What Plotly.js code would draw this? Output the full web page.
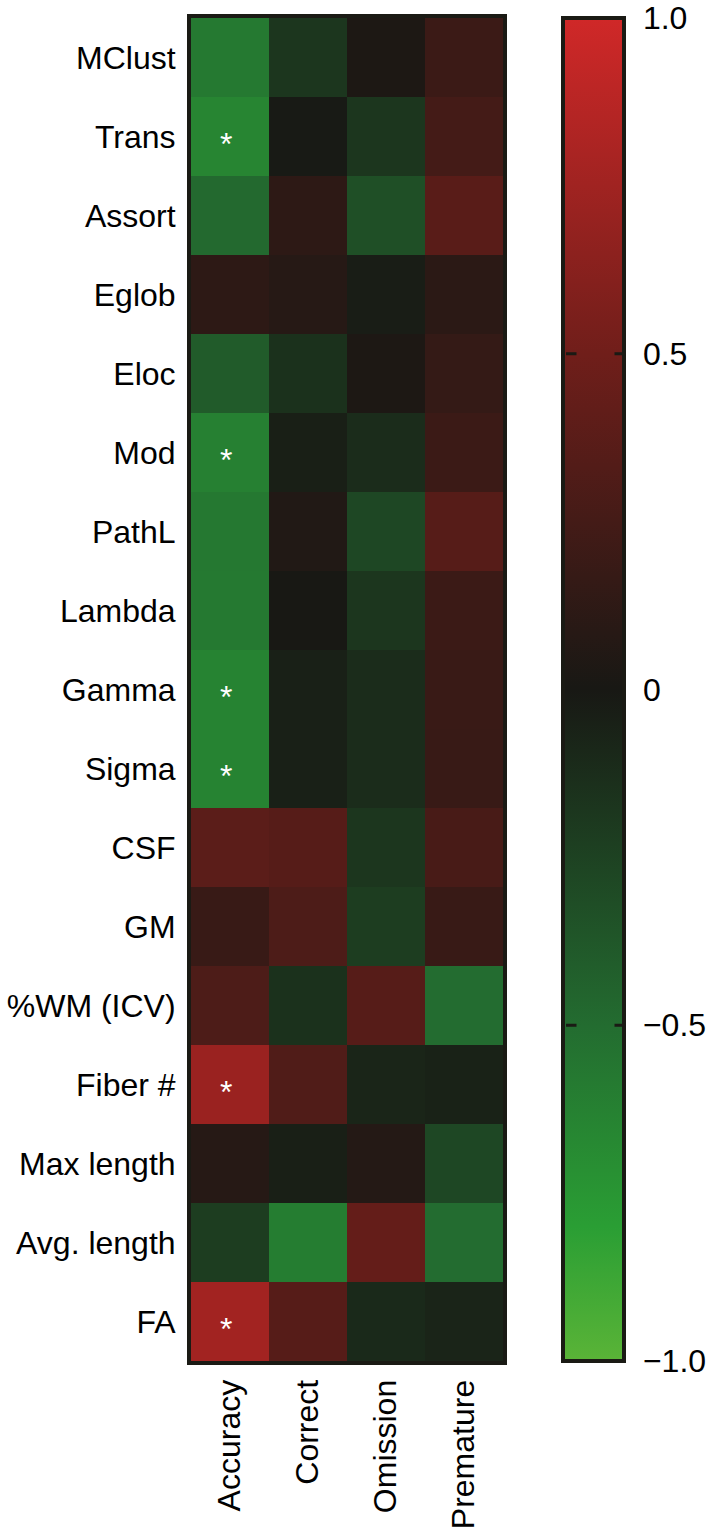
<!DOCTYPE html>
<html>
<head>
<meta charset="utf-8">
<script src="https://cdn.plot.ly/plotly-3.0.1.min.js"></script>
<style>
    body { margin: 0; background: #fff; }
    #chart { width: 709px; height: 1533px; }
</style>
</head>
<body>
<div id="chart"></div>
<script>
// Row / column labels
let rows = ["MClust", "Trans", "Assort", "Eglob", "Eloc", "Mod", "PathL", "Lambda", "Gamma",
            "Sigma", "CSF", "GM", "%WM (ICV)", "Fiber #", "Max length", "Avg. length", "FA"];
let cols = ["Accuracy", "Correct", "Omission", "Premature"];

// Correlation values, one array per column
let accuracy  = [-0.58, -0.65, -0.48, 0.12, -0.40, -0.62, -0.57, -0.58, -0.64, -0.64, 0.38, 0.18, 0.30, 0.72, 0.08, -0.22, 0.76];
let correct   = [-0.18, -0.01, 0.12, 0.08, -0.15, -0.04, 0.05, 0.00, -0.05, -0.05, 0.35, 0.30, -0.15, 0.32, -0.04, -0.60, 0.35];
let omission  = [0.03, -0.18, -0.33, -0.03, 0.03, -0.12, -0.28, -0.18, -0.12, -0.12, -0.18, -0.22, 0.35, -0.08, 0.07, 0.43, -0.10];
let premature = [0.20, 0.25, 0.37, 0.11, 0.16, 0.20, 0.35, 0.20, 0.19, 0.18, 0.27, 0.18, -0.50, -0.06, -0.28, -0.50, -0.07];

// Significant cells (all in the Accuracy column)
let significant = ["Trans", "Mod", "Gamma", "Sigma", "Fiber #", "FA"];

let cbar_vals = [-1, -0.5, 0, 0.5, 1];
let cbar_text = ["\u22121.0", "\u22120.5", "0", "0.5", "1.0"];
let cbar_marks = [-0.5, 0.5];

let z = rows.map((r, i) => [accuracy[i], correct[i], omission[i], premature[i]]);

let font = "'Liberation Sans', Arial, Helvetica, sans-serif";
let dark = "#1a1a14";
let zmin = -1, zmax = 1;
let plot_l = 191, plot_w = 312;
let px = p => (p - plot_l) / plot_w; // pixel -> paper x

let trace = {
    type: "heatmap",
    x: cols,
    y: rows,
    z: z,
    zmin: zmin,
    zmax: zmax,
    colorscale: [
        [0, "rgb(90,180,55)"],
        [0.1, "rgb(42,158,52)"],
        [0.25, "rgb(35,108,48)"],
        [0.5, "rgb(24,24,20)"],
        [0.75, "rgb(112,30,26)"],
        [1, "rgb(208,40,40)"],
    ],
    colorbar: {
        x: px(563),
        xanchor: "left",
        xpad: 0,
        ypad: 0,
        y: 0.5,
        yanchor: "middle",
        len: 1,
        thickness: 61,
        outlinewidth: 4,
        outlinecolor: dark,
        tickvals: cbar_vals,
        ticktext: cbar_text,
        ticks: "outside",
        ticklen: 11,
        tickcolor: "rgba(0,0,0,0)",
        tickfont: { family: font, size: 32, color: "#000" },
    },
    hoverinfo: "skip",
};

let annotations = significant.map(name => ({
    x: "Accuracy",
    y: name,
    text: "*",
    showarrow: false,
    xshift: -4,
    yshift: -7,
    font: { family: font, size: 32, color: "#fff" },
}));

// inward tick marks on both sides of the colour bar (arrows, so they sit above the bar)
let tick_mark = (xp, yy, ax) => ({
    xref: "paper", yref: "paper", x: xp, y: yy,
    text: " ", font: { size: 1 },
    showarrow: true, arrowhead: 0, arrowwidth: 3, arrowcolor: dark,
    ax: ax, ay: 0, standoff: 0, startstandoff: 0,
});
for (let v of cbar_marks)
{
    let yy = (v - zmin) / (zmax - zmin);
    annotations.push(tick_mark(px(566), yy, 12));
    annotations.push(tick_mark(px(625), yy, -12));
}

let layout = {
    width: 709,
    height: 1533,
    margin: { l: 191, r: 206, t: 18, b: 172, autoexpand: false },
    paper_bgcolor: "#fff",
    plot_bgcolor: "#fff",
    font: { family: font, size: 32, color: "#000" },
    xaxis: {
        type: "category",
        tickangle: -90,
        ticks: "outside",
        ticklen: 2,
        tickcolor: "rgba(0,0,0,0)",
        showline: true,
        mirror: true,
        linewidth: 4,
        linecolor: dark,
        showgrid: false,
        zeroline: false,
        fixedrange: true,
    },
    yaxis: {
        type: "category",
        autorange: "reversed",
        ticks: "outside",
        ticklen: 5,
        tickcolor: "rgba(0,0,0,0)",
        showline: true,
        mirror: true,
        linewidth: 4,
        linecolor: dark,
        showgrid: false,
        zeroline: false,
        fixedrange: true,
    },
    annotations: annotations,
    showlegend: false,
};

Plotly.newPlot("chart", [trace], layout, { displayModeBar: false, staticPlot: true });
</script>
</body>
</html>
